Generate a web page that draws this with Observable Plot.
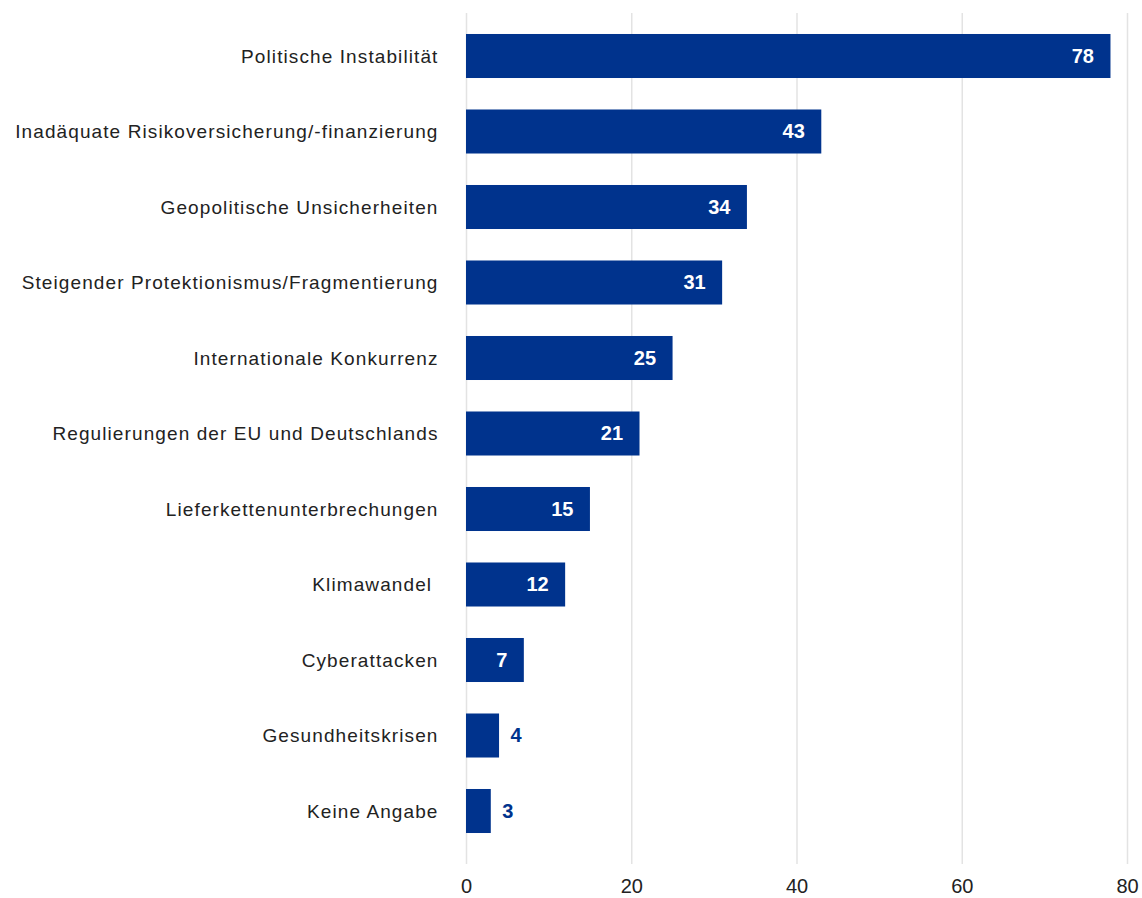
<!DOCTYPE html>
<html><head><meta charset="utf-8">
<script src="https://cdn.jsdelivr.net/npm/d3@7"></script>
<script src="https://cdn.jsdelivr.net/npm/@observablehq/plot@0.6"></script>
<style>
body{margin:0;background:#fff;font-family:"Liberation Sans",Arial,sans-serif;}
g[aria-label="y-axis tick label"] text{letter-spacing:1.1px;}
g[aria-label="x-axis tick label"] text{font-size:20px;}
</style></head>
<body><div id="chart"></div>
<script>
const categories = [
  "Politische Instabilität",
  "Inadäquate Risikoversicherung/-finanzierung",
  "Geopolitische Unsicherheiten",
  "Steigender Protektionismus/Fragmentierung",
  "Internationale Konkurrenz",
  "Regulierungen der EU und Deutschlands",
  "Lieferkettenunterbrechungen",
  "Klimawandel\u00a0",
  "Cyberattacken",
  "Gesundheitskrisen",
  "Keine Angabe"
];
const values = [78, 43, 34, 31, 25, 21, 15, 12, 7, 4, 3];
const xTicks = [0, 20, 40, 60, 80];

const data = categories.map((c, i) => ({category: c, value: values[i]}));
const blue = "#00338D";
const inside = data.filter(d => d.value >= 5);
const outside = data.filter(d => d.value < 5);

const chart = Plot.plot({
  width: 1142,
  height: 898,
  marginLeft: 466,
  marginRight: 15,
  marginTop: 13,
  marginBottom: 34,
  style: {fontFamily: "'Liberation Sans', Arial, sans-serif", fontSize: "19px", color: "#222", background: "#fff"},
  x: {domain: [0, 80], ticks: xTicks, grid: false, label: null, tickSize: 0, tickPadding: 14, tickFormat: d => d},
  y: {domain: categories, label: null, tickSize: 0, tickPadding: 28, paddingInner: 0.417, paddingOuter: 0.278, insetBottom: 10, round: false},
  marks: [
    Plot.gridX(xTicks, {stroke: "#e3e3e3", strokeOpacity: 1, strokeWidth: 1.5}),
    Plot.barX(data, {x: "value", y: "category", fill: blue}),
    Plot.text(inside, {x: "value", y: "category", text: d => String(d.value), textAnchor: "end", dx: -17, fill: "white", fontWeight: "bold", fontSize: 20}),
    Plot.text(outside, {x: "value", y: "category", text: d => String(d.value), textAnchor: "start", dx: 11, fill: blue, fontWeight: "bold", fontSize: 20})
  ]
});
document.getElementById("chart").appendChild(chart);
</script>
</body></html>
